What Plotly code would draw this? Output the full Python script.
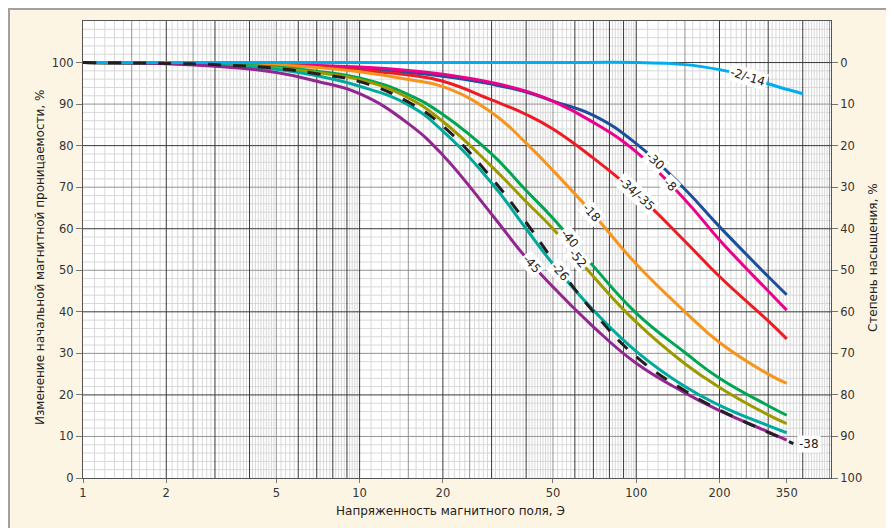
import numpy as np
import plotly.graph_objects as go

# ---------------- data ----------------
h = [1, 2, 3, 5, 7, 10, 15, 20, 30, 40, 50, 70, 100, 150, 200, 300, 350]
v_30 = [100, 99.9, 99.8, 99.5, 99.2, 98.7, 97.6, 96.7, 94.8, 92.9, 90.7, 87.3, 80.5, 69.5, 60.5, 48.5, 44.1]
v_8 = [100, 99.9, 99.8, 99.6, 99.3, 98.9, 98.1, 97.2, 95.2, 93.1, 90.7, 85.6, 78.5, 67.0, 57.3, 45.0, 40.4]
v_34 = [100, 99.9, 99.8, 99.5, 99.0, 98.2, 97.0, 95.5, 91.0, 87.5, 84.0, 77.0, 68.5, 57.0, 48.5, 37.8, 33.5]
v_18 = [100, 99.9, 99.8, 99.4, 98.8, 97.8, 95.9, 94.2, 88.0, 80.6, 74.0, 63.5, 51.5, 40.0, 32.6, 25.0, 22.8]
v_40 = [100, 99.8, 99.6, 98.9, 97.9, 96.3, 92.3, 87.5, 78.0, 69.2, 62.5, 51.0, 39.7, 30.2, 24.0, 17.4, 15.1]
v_52 = [100, 99.8, 99.5, 98.7, 97.6, 95.9, 91.5, 85.8, 75.0, 66.5, 60.0, 48.5, 37.5, 27.5, 21.8, 15.2, 13.1]
v_26 = [100, 99.8, 99.4, 98.4, 96.8, 94.3, 89.8, 83.5, 71.0, 60.0, 51.5, 40.4, 30.5, 22.0, 17.5, 12.6, 10.9]
v_45 = [100, 99.7, 99.1, 97.6, 95.5, 92.5, 85.3, 77.7, 63.5, 53.0, 46.0, 36.4, 27.6, 20.5, 16.2, 11.1, 9.1]
h_38 = [1, 2, 3, 5, 7, 10, 15, 20, 30, 40, 50, 70, 100, 150, 200, 300, 370]
v_38 = [100, 99.8, 99.5, 98.6, 97.3, 95.4, 90.5, 84.7, 72.2, 61.5, 52.5, 40.0, 29.2, 21.0, 16.4, 11.0, 8.3]
h_2 = [1, 10, 50, 100, 150, 200, 250, 300, 400]
v_2 = [100, 100, 100, 100, 99.5, 98.3, 96.8, 94.9, 92.5]

x_ticks = [1, 2, 5, 10, 20, 50, 100, 200, 350]
y_ticks = [0, 10, 20, 30, 40, 50, 60, 70, 80, 90, 100]

# label text, H position of label centre
series = [
    ("-30", h, v_30, "#1c4f9c", 117),
    ("-8", h, v_8, "#ec008c", 132.6),
    ("-34/-35", h, v_34, "#ed1c24", 100.5),
    ("-18", h, v_18, "#f7941d", 69.1),
    ("-40", h, v_40, "#00a651", 57.7),
    ("-52", h, v_52, "#9d9a00", 61.8),
    ("-26", h, v_26, "#00a99d", 53.1),
    ("-45", h, v_45, "#92278f", 41.9),
]

XMAX = 506
YMAX = 110
W, H = 894, 528
L, R, T, B = 75, 71, 13, 58
PW, PH = W - L - R, H - T - B
px_per_dec = PW / np.log10(XMAX)
px_per_unit = PH / YMAX


def px(xpix):
    return (xpix - L) / PW


def py(ypix):
    return (H - B - ypix) / PH


fig = go.Figure()

# ---------------- log-paper grid ----------------
light_x, med_x, dark_x = [], [], []
for d in [1, 10, 100]:
    for i in range(10, 100):
        if i >= 50 and i % 2 == 1:
            continue  # coarser subdivision between 5 and 10
        val = i / 10.0 * d
        if val <= 1 or val >= XMAX:
            continue
        if i % 10 == 0 and i != 50:
            dark_x.append(val)
        elif i in (15, 25, 50):
            med_x.append(val)
        else:
            light_x.append(val)
light_y, med_y, dark_y = [], [], []
for yv in range(2, YMAX, 2):
    if yv % 20 == 0:
        dark_y.append(yv)
    elif yv % 10 == 0:
        med_y.append(yv)
    else:
        light_y.append(yv)


def grid_trace(xv, yv, color):
    xs, ys = [], []
    for x in xv:
        xs += [x, x, None]
        ys += [0, YMAX, None]
    for y in yv:
        xs += [1, XMAX, None]
        ys += [y, y, None]
    return go.Scatter(x=xs, y=ys, mode="lines", line=dict(color=color, width=1),
                      hoverinfo="skip", showlegend=False)


fig.add_trace(grid_trace(light_x, light_y, "#d8d8d8"))
fig.add_trace(grid_trace(med_x, med_y, "#939393"))
fig.add_trace(grid_trace(dark_x, dark_y, "#383838"))

# ---------------- curves ----------------
for name, hx, vy, col, hl in series:
    fig.add_trace(go.Scatter(x=hx, y=vy, mode="lines", name=name,
                             line=dict(color=col, width=3, shape="spline", smoothing=1.3),
                             showlegend=False, hoverinfo="skip"))
fig.add_trace(go.Scatter(x=h_2, y=v_2, mode="lines", name="-2/-14",
                         line=dict(color="#00aeef", width=3, shape="spline", smoothing=1.0),
                         showlegend=False, hoverinfo="skip"))
fig.add_trace(go.Scatter(x=h_38, y=v_38, mode="lines", name="-38",
                         line=dict(color="#231f20", width=3, dash="13px,12px",
                                   shape="spline", smoothing=1.3),
                         showlegend=False, hoverinfo="skip"))
# dummy trace for the right axis
fig.add_trace(go.Scatter(x=[1], y=[0], yaxis="y2", mode="markers",
                         marker=dict(opacity=0), showlegend=False, hoverinfo="skip"))

lfont = dict(family="DejaVu Sans", size=12, color="#222")


def label(text, hx, vy, hl):
    lx = np.log10(np.array(hx, float))
    xl = np.log10(hl)
    yl = float(np.interp(xl, lx, vy))
    d = 0.03
    slope = (np.interp(xl + d, lx, vy) - np.interp(xl - d, lx, vy)) / (2 * d)
    ang = -np.degrees(np.arctan(slope * px_per_unit / px_per_dec))
    fig.add_annotation(x=xl, y=yl, text=text, showarrow=False, textangle=ang,
                       bgcolor="white", borderpad=1, font=lfont)


for name, hx, vy, col, hl in series:
    label(name, hx, vy, hl)
label("-2/-14", h_2, v_2, 254)
fig.add_annotation(x=np.log10(h_38[-1]), y=v_38[-1], text="-38", showarrow=False,
                   xanchor="left", xshift=4, bgcolor="white", borderpad=1, font=lfont)

# ---------------- titles ----------------
tfont = dict(family="DejaVu Sans", size=12, color="#222")
fig.add_annotation(xref="paper", yref="paper", x=px(442), y=py(503),
                   xanchor="center", yanchor="middle",
                   text="Напряженность магнитного поля, Э", showarrow=False, font=tfont)
fig.add_annotation(xref="paper", yref="paper", x=px(32), y=py(250),
                   xanchor="center", yanchor="middle",
                   text="Изменение начальной магнитной проницаемости, %", showarrow=False,
                   textangle=-90, font=tfont)
fig.add_annotation(xref="paper", yref="paper", x=px(865), y=py(250),
                   xanchor="center", yanchor="middle",
                   text="Степень насыщения, %", showarrow=False, textangle=-90, font=tfont)

# frame of the whole picture
fig.add_shape(type="rect", xref="paper", yref="paper",
              x0=px(0), x1=px(W + 20), y0=py(H + 20), y1=py(0),
              fillcolor="rgba(0,0,0,0)", line=dict(color="#a0a0a0", width=4), layer="above")

tickfont = dict(family="DejaVu Sans", size=11.5, color="#333")
fig.update_layout(
    width=W, height=H,
    margin=dict(l=L, r=R, t=T, b=B),
    paper_bgcolor="#fdf5e4", plot_bgcolor="white",
    xaxis=dict(type="log", range=[0, np.log10(XMAX)], tickvals=x_ticks,
               ticktext=[str(t) for t in x_ticks], showgrid=False, zeroline=False,
               showline=True, mirror=True, linecolor="#555", linewidth=1,
               ticks="outside", ticklen=4, tickcolor="#777", tickfont=tickfont),
    yaxis=dict(range=[0, YMAX], tickvals=y_ticks, showgrid=False, zeroline=False,
               showline=True, mirror=True, linecolor="#555", linewidth=1,
               ticks="outside", ticklen=6, tickcolor="#777", tickfont=tickfont),
    yaxis2=dict(overlaying="y", side="right", range=[100, -10], tickvals=y_ticks,
                showgrid=False, zeroline=False, showline=True, linecolor="#555",
                ticks="outside", ticklen=6, tickcolor="#777", tickfont=tickfont),
)

fig.write_html("out.html")
